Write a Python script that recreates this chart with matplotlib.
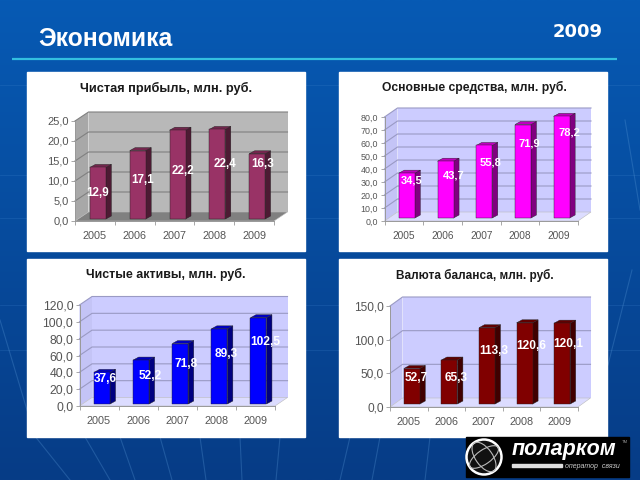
import numpy as np
import matplotlib
matplotlib.use('Agg')
import matplotlib.pyplot as plt
from matplotlib.patches import Rectangle, Polygon, Circle, Ellipse
from matplotlib.transforms import Affine2D

plt.rcParams['font.family'] = ['Liberation Sans', 'DejaVu Sans']

years = ['2005', '2006', '2007', '2008', '2009']
profit = [12.9, 17.1, 22.2, 22.4, 16.3]
fixed_assets = [34.5, 43.7, 55.8, 71.9, 78.2]
net_assets = [37.6, 52.2, 71.8, 89.3, 102.5]
balance = [52.7, 65.3, 113.3, 120.6, 120.1]

W, H = 640, 480
fig = plt.figure(figsize=(6.4, 4.8), dpi=100)


def rect(l, t, r, b):
    # pixel box, y measured from the top
    return [l / W, 1 - b / H, (r - l) / W, (b - t) / H]


# background
bg = fig.add_axes([0, 0, 1, 1])
bg.set_xlim(0, W)
bg.set_ylim(H, 0)
bg.axis('off')
top = np.array([0x06, 0x5a, 0xb4]) / 255
bot = np.array([0x07, 0x3c, 0x86]) / 255
t = np.linspace(0, 1, 256)[:, None, None]
bg.imshow(top * (1 - t) + bot * t, extent=[0, W, H, 0], aspect='auto')
for y in [85, 175, 218, 305, 350]:
    bg.plot([0, W], [y, y], color='#3f86cf', lw=0.6, alpha=0.25)
for xa, ya, xb, yb in [(0, 320, 30, 420), (30, 430, 70, 480), (85, 437, 110, 480), (120, 437, 135, 480),
                       (160, 437, 172, 480), (200, 437, 206, 480), (240, 437, 242, 480), (280, 437, 276, 480),
                       (350, 437, 340, 480), (380, 437, 372, 480), (430, 437, 425, 480),
                       (632, 270, 608, 365), (625, 120, 640, 210)]:
    bg.plot([xa, xb], [ya, yb], color='#5b9ad8', lw=0.8, alpha=0.3)

bg.text(38, 38.5, 'Экономика', color='white', fontsize=17.8, fontweight='bold', va='center', ha='left')
bg.text(578, 32, '2009', color='white', fontsize=13, fontweight='bold', family='DejaVu Sans',
        va='center', ha='center')
bg.plot([12, 617], [58.5, 58.5], color='#33bfe0', lw=1.6, solid_capstyle='butt')

# logo
bg.add_patch(Rectangle((466, 437), 163, 40, color='black', zorder=3))
bg.add_patch(Circle((484, 457), 17.5, fc='#111111', ec='white', lw=1.8, zorder=4))
bg.add_patch(Ellipse((484, 457), 17, 34, fc='none', ec='#bbbbbb', lw=0.8, angle=-35, zorder=4))
bg.add_patch(Ellipse((484, 457), 34, 14, fc='none', ec='#bbbbbb', lw=0.8, angle=-35, zorder=4))
bg.text(512, 449, 'поларком', color='white', fontsize=15.5, fontweight='bold', style='italic',
        va='center', ha='left', zorder=5)
bg.add_patch(Rectangle((512, 464), 50, 3, color='#dddddd', zorder=5))
bg.text(565, 466, 'оператор  связи', color='#cccccc', fontsize=5, style='italic', va='center', ha='left', zorder=5)
bg.text(625, 442, 'TM', color='#999999', fontsize=3, va='center', ha='center', zorder=5)


def panel(box, front, depth, values, ymax, step, title, title_xy, title_size, colors, wall, floor, grid,
          ytick_size, xtick_size, label_size, shift, label_dx, label_dy):
    l, t_, r, b = box
    bg.add_patch(Rectangle((l, t_), r - l, b - t_, color='white', zorder=2))
    bg.text(title_xy[0], title_xy[1], title, color='#1a1a1a', fontsize=title_size, fontweight='bold',
            ha='center', va='center', zorder=5)

    fl, ft, fr, fb = front
    ax = fig.add_axes(rect(fl, ft, fr, fb))
    ax.patch.set_alpha(0)
    ax.set_xlim(0, 5)
    ax.set_ylim(0, ymax)
    dx = depth[0] / (fr - fl) * 5
    dy = depth[1] / (fb - ft) * ymax
    px_x = 5 / (fr - fl)
    px_y = ymax / (fb - ft)

    # walls
    ax.add_patch(Polygon([(dx, dy), (5 + dx, dy), (5 + dx, ymax + dy), (dx, ymax + dy)], fc=wall[0], ec='none',
                         clip_on=False, zorder=1))
    ax.add_patch(Polygon([(0, 0), (dx, dy), (dx, ymax + dy), (0, ymax)], fc=wall[1], ec='none',
                         clip_on=False, zorder=1))
    ax.add_patch(Polygon([(0, 0), (5, 0), (5 + dx, dy), (dx, dy)], fc=floor, ec='#bbbbbb', lw=0.4,
                         clip_on=False, zorder=1))
    yt = np.arange(0, ymax + step / 2, step)
    for v in yt[1:]:
        ax.plot([0, dx, 5 + dx], [v, v + dy, v + dy], color=grid, lw=0.8, clip_on=False, zorder=2)

    # bars
    tr = ax.transData + Affine2D().translate(shift[0], shift[1])
    xs = np.arange(5) + 0.5
    w = 16 * px_x
    ox, oy = 5.5 * px_x, 3 * px_y
    for x, v in zip(xs, values):
        x0, x1 = x - w / 2, x + w / 2
        ax.add_patch(Polygon([(x1, 0), (x1 + ox, oy), (x1 + ox, v + oy), (x1, v)], fc=colors[1], ec='#222222',
                             lw=0.3, transform=tr, clip_on=False, zorder=3))
        ax.add_patch(Polygon([(x0, v), (x1, v), (x1 + ox, v + oy), (x0 + ox, v + oy)], fc=colors[2], ec='#222222',
                             lw=0.3, transform=tr, clip_on=False, zorder=3))
    ax.bar(xs, values, w, color=colors[0], edgecolor='#222222', linewidth=0.3, transform=tr, clip_on=False, zorder=4)
    for x, v, ldx, ldy in zip(xs, values, label_dx, label_dy):
        ax.text(x + ldx * px_x, v / 2 + ldy * px_y, ('%.1f' % v).replace('.', ','), color='white', fontsize=label_size,
                fontweight='bold', ha='center', va='center', transform=tr, zorder=6, clip_on=False)

    ax.set_yticks(yt, [('%.1f' % v).replace('.', ',') for v in yt])
    ax.set_xticks(xs, years)
    ax.set_xticks(np.arange(6), minor=True)
    ax.tick_params(axis='x', which='major', length=0, pad=7, labelsize=xtick_size, labelcolor='#555555')
    ax.tick_params(axis='x', which='minor', length=3, width=0.6, color='#999999')
    ax.tick_params(axis='y', length=3, width=0.6, color='#999999', pad=1.5, labelsize=ytick_size, labelcolor='#555555')
    for s in ['top', 'right']:
        ax.spines[s].set_visible(False)
    for s in ['left', 'bottom']:
        ax.spines[s].set_color('#999999')
        ax.spines[s].set_linewidth(0.7)


panel((26.5, 72, 305, 251), (75, 121, 274, 221), (13.5, 9), profit, 25, 5,
      'Чистая прибыль, млн. руб.', (166, 88), 9.2,
      ('#993366', '#4d1a33', '#73264d'), ('#b8b8b8', '#a8a8a8'), '#808080', '#808080',
      8, 7.8, 8.4, (3, 2), [0, 5, 6, 8, 6], [0, 5, 3.6, 10, 22])
panel((339, 72, 607, 251), (384.5, 117, 578, 221), (13, 9), fixed_assets, 80, 10,
      'Основные средства, млн. руб.', (474, 87), 8.7,
      ('#ff00ff', '#800080', '#bf00bf'), ('#ccccff', '#c4c4f6'), '#dcdcff', '#9a9ac4',
      6.4, 7.3, 8, (3, 3), [5, 8.5, 6.7, 6, 8], [14.6, 13.6, 19, 28, 34.5])
panel((26.5, 259, 305, 437), (79.5, 305, 275, 406), (12.5, 8.5), net_assets, 120, 20,
      'Чистые активы, млн. руб.', (166, 274), 8.9,
      ('#0000ff', '#000080', '#0000bf'), ('#ccccff', '#c4c4f6'), '#dcdcff', '#9a9ac4',
      8.8, 7.8, 8.6, (3, 2), [3.7, 9, 6.3, 6.5, 7.2], [8.9, 6.3, 9.8, 12.4, 18.6])
panel((339, 259, 607, 437), (390, 306, 578, 407), (12.5, 9), balance, 150, 50,
      'Валюта баланса, млн. руб.', (475, 275), 8.5,
      ('#800000', '#400000', '#600000'), ('#ccccff', '#c4c4f6'), '#dcdcff', '#9a9ac4',
      8.6, 7.8, 8.6, (3, 3), [4, 6.6, 6.8, 6.7, 6.3], [8, 3.7, 15.2, 17.7, 19.9])

fig.savefig('out.png', dpi=100)
